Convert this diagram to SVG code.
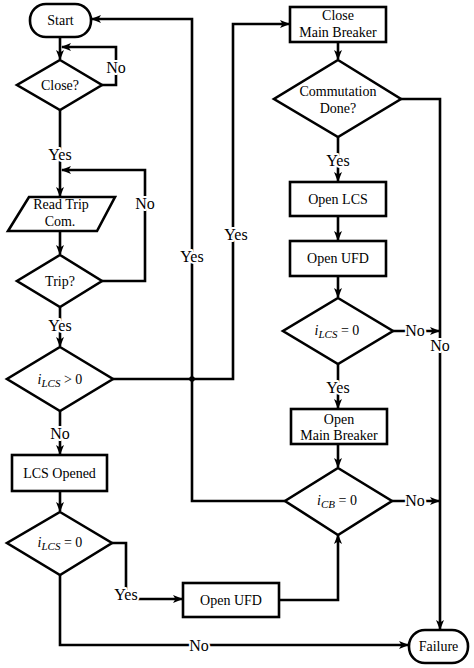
<svg xmlns="http://www.w3.org/2000/svg" width="474" height="668" viewBox="0 0 474 668">
<style>
.n{fill:#fff;stroke:#000;stroke-width:2.6;stroke-linejoin:miter}
.c{fill:none;stroke:#000;stroke-width:2.6}
.t{font-family:'Liberation Serif','Times New Roman',Tinos,'DejaVu Serif',serif;font-size:14px;text-anchor:middle;fill:#000}
.l{font-family:'Liberation Serif','Times New Roman',Tinos,'DejaVu Serif',serif;font-size:16px;text-anchor:middle;fill:#000;stroke:#fff;stroke-width:4;paint-order:stroke;stroke-linejoin:round}
.i{font-style:italic}
.s{font-style:italic;font-size:11px}
</style>
<defs>
<marker id="a" markerUnits="userSpaceOnUse" markerWidth="10" markerHeight="10" viewBox="0 0 10 10" refX="9" refY="5" orient="auto">
<path d="M0,1 L10,5 L0,9 L2.5,5 Z" fill="#000"/>
</marker>
</defs>
<rect width="474" height="668" fill="#fff"/>
<g id="connectors">
<path class="c" d="M60,37 V59" marker-end="url(#a)"/>
<path class="c" d="M102,85 H116 V47 H62" marker-end="url(#a)"/>
<path class="c" d="M60,110 V196" marker-end="url(#a)"/>
<path class="c" d="M102,281 H145 V170 H62" marker-end="url(#a)"/>
<path class="c" d="M60,231 V254" marker-end="url(#a)"/>
<path class="c" d="M60,307 V346" marker-end="url(#a)"/>
<path class="c" d="M113,379 H233 V24 H289" marker-end="url(#a)"/>
<path class="c" d="M60,411 V454" marker-end="url(#a)"/>
<path class="c" d="M60,491 V511" marker-end="url(#a)"/>
<path class="c" d="M112,543 H126 V599 H182" marker-end="url(#a)"/>
<path class="c" d="M279,600 H338 V535" marker-end="url(#a)"/>
<path class="c" d="M60,575 V645 H408" marker-end="url(#a)"/>
<path class="c" d="M285,501 H192 V19 H92" marker-end="url(#a)"/>
<circle cx="192" cy="379" r="2.8" fill="#000"/>
<path class="c" d="M338,42 V59" marker-end="url(#a)"/>
<path class="c" d="M401,99 H440 V629" marker-end="url(#a)"/>
<path class="c" d="M338,137 V181" marker-end="url(#a)"/>
<path class="c" d="M338,216 V240" marker-end="url(#a)"/>
<path class="c" d="M338,276 V297" marker-end="url(#a)"/>
<path class="c" d="M393,331 H439" marker-end="url(#a)"/>
<path class="c" d="M338,364 V408" marker-end="url(#a)"/>
<path class="c" d="M338,444 V467" marker-end="url(#a)"/>
<path class="c" d="M392,501 H439" marker-end="url(#a)"/>
<text class="l" x="116" y="73">No</text>
<text class="l" x="60" y="160">Yes</text>
<text class="l" x="145" y="209">No</text>
<text class="l" x="60" y="331">Yes</text>
<text class="l" x="236" y="240">Yes</text>
<text class="l" x="192" y="262">Yes</text>
<text class="l" x="60" y="439">No</text>
<text class="l" x="126" y="600">Yes</text>
<text class="l" x="199" y="651">No</text>
<text class="l" x="338" y="166">Yes</text>
<text class="l" x="338" y="393">Yes</text>
<text class="l" x="415" y="336">No</text>
<text class="l" x="440" y="351">No</text>
<text class="l" x="415" y="506">No</text>
</g>
<g id="start">
<rect class="n" x="30" y="4" width="61" height="33" rx="16" ry="16"/>
<text class="t" x="60.5" y="25">Start</text>
</g>
<g id="close">
<path class="n" d="M60,60 L102,85 L60,110 L17,85 Z"/>
<text class="t" x="60" y="90">Close?</text>
</g>
<g id="readtrip">
<path class="n" d="M29,197 L115,197 L97,231 L8,231 Z"/>
<text class="t" x="61" y="209">Read Trip</text>
<text class="t" x="60" y="226">Com.</text>
</g>
<g id="trip">
<path class="n" d="M60,255 L102,281 L60,307 L17,281 Z"/>
<text class="t" x="60" y="286">Trip?</text>
</g>
<g id="ilcsgt0">
<path class="n" d="M60,347 L113,379 L60,411 L7,379 Z"/>
<text class="t" x="60" y="384"><tspan class="i">i</tspan><tspan class="s" dy="3">LCS</tspan><tspan dy="-3"> &gt; 0</tspan></text>
</g>
<g id="lcsopened">
<rect class="n" x="12" y="455" width="95" height="36"/>
<text class="t" x="59.5" y="478">LCS Opened</text>
</g>
<g id="ilcseq0a">
<path class="n" d="M60,512 L112,543 L60,575 L7,543 Z"/>
<text class="t" x="60" y="547"><tspan class="i">i</tspan><tspan class="s" dy="3">LCS</tspan><tspan dy="-3"> = 0</tspan></text>
</g>
<g id="openufda">
<rect class="n" x="183" y="583" width="96" height="34"/>
<text class="t" x="231" y="605">Open UFD</text>
</g>
<g id="failure">
<rect class="n" x="409" y="630" width="59" height="33" rx="16" ry="16"/>
<text class="t" x="438.5" y="651">Failure</text>
</g>
<g id="closemb">
<rect class="n" x="290" y="7" width="96" height="35"/>
<text class="t" x="338" y="20">Close</text>
<text class="t" x="338" y="37">Main Breaker</text>
</g>
<g id="commutation">
<path class="n" d="M338,60 L401,99 L338,137 L274,99 Z"/>
<text class="t" x="338" y="96">Commutation</text>
<text class="t" x="338" y="113">Done?</text>
</g>
<g id="openlcs">
<rect class="n" x="290" y="182" width="96" height="34"/>
<text class="t" x="338" y="204">Open LCS</text>
</g>
<g id="openufdb">
<rect class="n" x="290" y="241" width="96" height="35"/>
<text class="t" x="338" y="263">Open UFD</text>
</g>
<g id="ilcseq0b">
<path class="n" d="M338,298 L393,331 L338,364 L283,331 Z"/>
<text class="t" x="337" y="335"><tspan class="i">i</tspan><tspan class="s" dy="3">LCS</tspan><tspan dy="-3"> = 0</tspan></text>
</g>
<g id="openmb">
<rect class="n" x="291" y="409" width="96" height="35"/>
<text class="t" x="339" y="424">Open</text>
<text class="t" x="339" y="440">Main Breaker</text>
</g>
<g id="icbeq0">
<path class="n" d="M338,468 L392,501 L338,535 L285,501 Z"/>
<text class="t" x="337" y="505"><tspan class="i">i</tspan><tspan class="s" dy="3">CB</tspan><tspan dy="-3"> = 0</tspan></text>
</g>
</svg>
